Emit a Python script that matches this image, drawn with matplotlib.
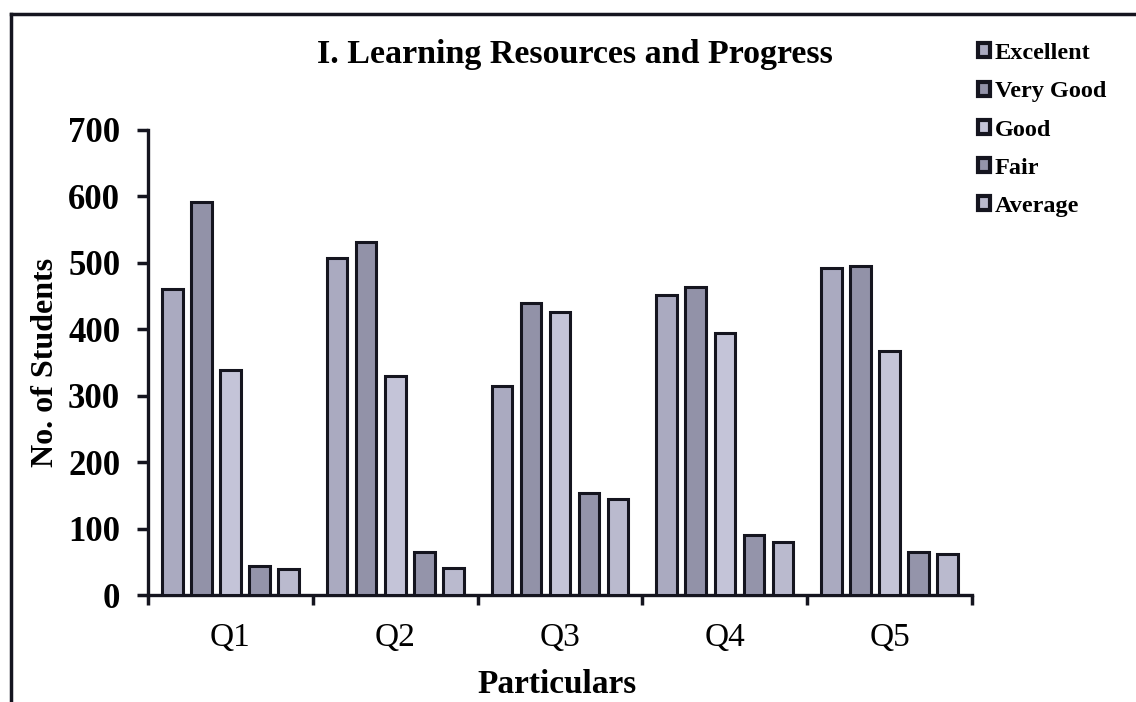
import matplotlib
matplotlib.use("Agg")
import matplotlib.pyplot as plt
import numpy as np
from matplotlib.lines import Line2D

categories = ["Q1", "Q2", "Q3", "Q4", "Q5"]
series_names = ["Excellent", "Very Good", "Good", "Fair", "Average"]
excellent = [460, 508, 315, 452, 492]
very_good = [592, 532, 439, 463, 496]
good = [338, 329, 426, 394, 368]
fair = [43, 64, 154, 90, 65]
average = [39, 41, 145, 80, 61]
y_ticks = [0, 100, 200, 300, 400, 500, 600, 700]

series = [excellent, very_good, good, fair, average]
colors = ["#aaaac0", "#9292a8", "#c4c4d8", "#9494aa", "#babace"]
edge = "#15151f"

plt.rcParams['font.family'] = ['Liberation Serif', 'DejaVu Serif']

fig = plt.figure(figsize=(11.36, 7.02), dpi=100)
ax = fig.add_axes([148/1136, 1-595/702, (972-148)/1136, (595-130)/702])

x = np.arange(len(categories))
slot = 0.176
width = 0.125
for i, (vals, c, name) in enumerate(zip(series, colors, series_names)):
    ax.bar(x + (i - 2) * slot, vals, width, color=c, edgecolor=edge,
           linewidth=2.2, label=name, zorder=3)

ax.set_xlim(-0.5, len(categories) - 0.5)
ax.set_ylim(0, 700)
ax.set_yticks(y_ticks)
ax.set_yticklabels([str(v) for v in y_ticks], fontsize=25, fontweight='bold')
ax.set_xticks(x)
ax.set_xticklabels(categories, fontsize=24)
ax.set_xticks(np.arange(-0.5, len(categories)), minor=True)
ax.tick_params(axis='x', which='major', length=0, pad=20)
ax.tick_params(axis='x', which='minor', length=7, width=2.5, direction='out', color=edge)
ax.tick_params(axis='y', length=8, width=2.5, direction='out', color=edge, pad=12)

for s in ['top', 'right']:
    ax.spines[s].set_visible(False)
for s in ['left', 'bottom']:
    ax.spines[s].set_linewidth(2.4)
    ax.spines[s].set_color(edge)

ax.set_ylabel("No. of Students", fontsize=23, fontweight='bold', labelpad=6)
fig.text(557/1136, 1-693/702, "Particulars", fontsize=24, fontweight='bold',
         ha='center', va='baseline')

fig.text(575/1136, 1-55/702, "I. Learning Resources and Progress", fontsize=24.5,
         fontweight='bold', ha='center', va='center')

leg = fig.legend(loc='upper left', bbox_to_anchor=(978/1136, 1-43/702),
                 frameon=False, prop={'size': 17.5, 'weight': 'bold'},
                 handlelength=0.5, handleheight=0.5, handletextpad=0.2,
                 labelspacing=0.71, borderpad=0, borderaxespad=0)
for h in leg.legend_handles:
    h.set_linewidth(3)

# outer frame (left and top visible)
fig.add_artist(Line2D([11/1136, 11/1136], [0, 1-14/702], transform=fig.transFigure,
                      color=edge, linewidth=2.5))
fig.add_artist(Line2D([11/1136, 1], [1-14/702, 1-14/702], transform=fig.transFigure,
                      color=edge, linewidth=2.5))

fig.savefig("out.png", dpi=100)
